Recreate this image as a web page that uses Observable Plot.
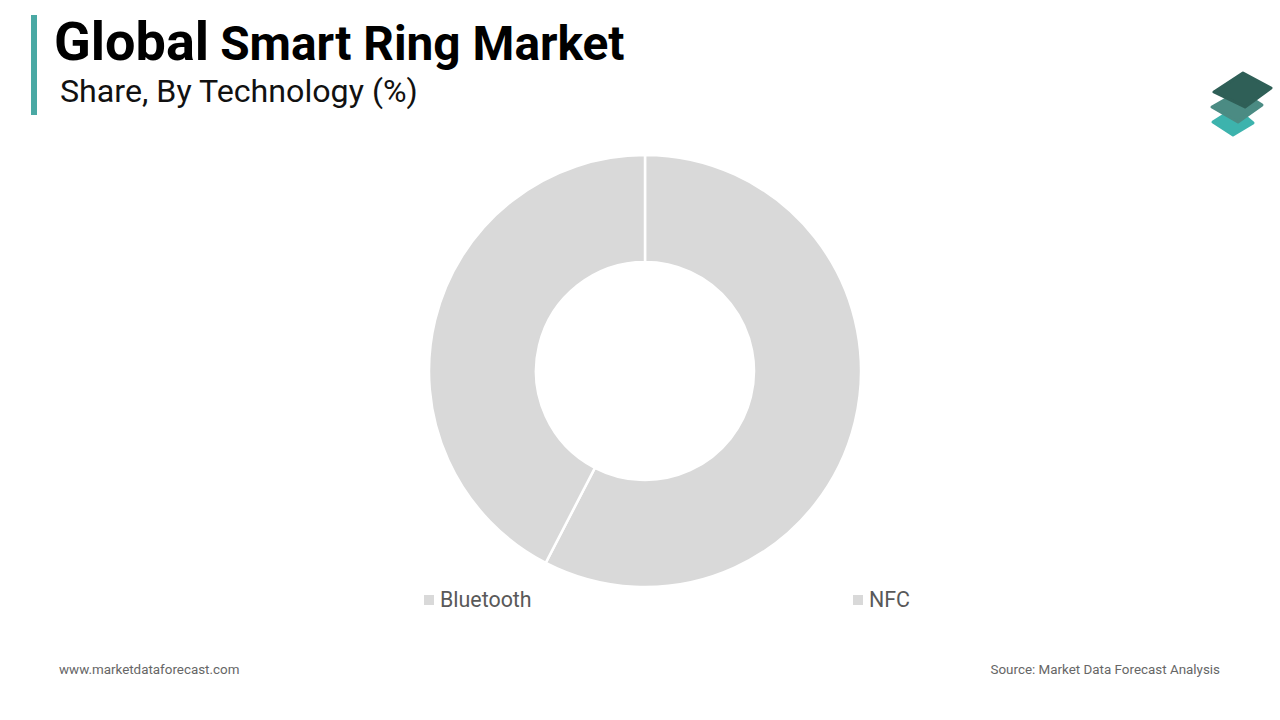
<!DOCTYPE html>
<html>
<head>
<meta charset="utf-8">
<script src="https://cdn.jsdelivr.net/npm/d3@7"></script>
<script src="https://cdn.jsdelivr.net/npm/@observablehq/plot@0.6"></script>
<style>
  html, body { margin: 0; padding: 0; background: #fff; }
  body { width: 1280px; height: 720px; position: relative; overflow: hidden; font-family: Roboto, "Noto Sans", sans-serif; }
  .bar { position: absolute; left: 31px; top: 15px; width: 6px; height: 100px; background: #4aa9a4; }
  .title { position: absolute; left: 54px; top: 15px; font-weight: 700; color: #000; white-space: nowrap; line-height: 1; }
  .title .big { font-size: 54px; margin-right: 11px; }
  .title .rest { font-size: 47.8px; }
  .subtitle { position: absolute; left: 60px; top: 75px; font-size: 32.2px; color: #111; white-space: nowrap; line-height: 1; }
  #chart { position: absolute; left: 0; top: 140px; }
  .legend { position: absolute; top: 589px; font-size: 21.4px; color: #595959; white-space: nowrap; line-height: 22px; }
  .legend .sw { display: inline-block; width: 10px; height: 10px; background: #d9d9d9; margin-right: 6px; vertical-align: 2px; }
  .foot { position: absolute; top: 662px; font-size: 13.4px; color: #666; white-space: nowrap; }
  .logo { position: absolute; left: 1205px; top: 66px; }
</style>
</head>
<body>
<div class="bar"></div>
<div class="title"><span class="big">Global</span><span class="rest">Smart Ring Market</span></div>
<div class="subtitle">Share, By Technology (%)</div>
<svg class="logo" width="75" height="75" viewBox="0 0 75 75">
  <g stroke-linejoin="round" stroke-width="3">
    <polygon points="8,56 30,42 48,57 28,69" fill="#3db3ad" stroke="#3db3ad"/>
    <polygon points="7,41 35,25 57,39 33,56" fill="#4b8b83" stroke="#4b8b83"/>
    <polygon points="9,26 38,7 66,22 40,41" fill="#2f5f57" stroke="#2f5f57"/>
  </g>
</svg>
<div id="chart"></div>
<div id="legend"></div>
<div class="foot" style="left:59px">www.marketdataforecast.com</div>
<div class="foot" style="right:60px">Source: Market Data Forecast Analysis</div>
<script>
const categories = ["Bluetooth", "NFC"];
const shares = [57.6, 42.4];
const legendX = [424, 853];

const data = categories.map((c, i) => ({category: c, value: shares[i]}));

const W = 1280, H = 500;
const cx = 645, cy = 231, outerR = 216, innerR = 109;

const pie = d3.pie().value(d => d.value).sort(null).startAngle(0).endAngle(2 * Math.PI);
const arcs = pie(data);
const arcGen = d3.arc().innerRadius(innerR).outerRadius(outerR);

function donutMark(index, scales, values, dimensions) {
  const x = scales.x, y = scales.y;
  const g = d3.create("svg:g").attr("transform", `translate(${x(cx)},${y(cy)})`);
  g.selectAll("path").data(arcs).join("path")
    .attr("d", arcGen)
    .attr("fill", "#d9d9d9")
    .attr("stroke", "#ffffff")
    .attr("stroke-width", 2.5)
    .append("title").text(d => `${d.data.category}: ${d.data.value}%`);
  return g.node();
}

const plot = Plot.plot({
  width: W,
  height: H,
  margin: 0,
  x: {domain: [0, W], range: [0, W], axis: null},
  y: {domain: [0, H], range: [0, H], axis: null},
  marks: [
    Plot.dot([{x: 0, y: 0}], {x: "x", y: "y", r: 0, stroke: "none"}),
    donutMark
  ]
});
document.getElementById("chart").appendChild(plot);

const legend = document.getElementById("legend");
categories.forEach((c, i) => {
  const el = document.createElement("div");
  el.className = "legend";
  el.style.left = legendX[i] + "px";
  el.innerHTML = `<span class="sw"></span>${c}`;
  legend.appendChild(el);
});
</script>
</body>
</html>
